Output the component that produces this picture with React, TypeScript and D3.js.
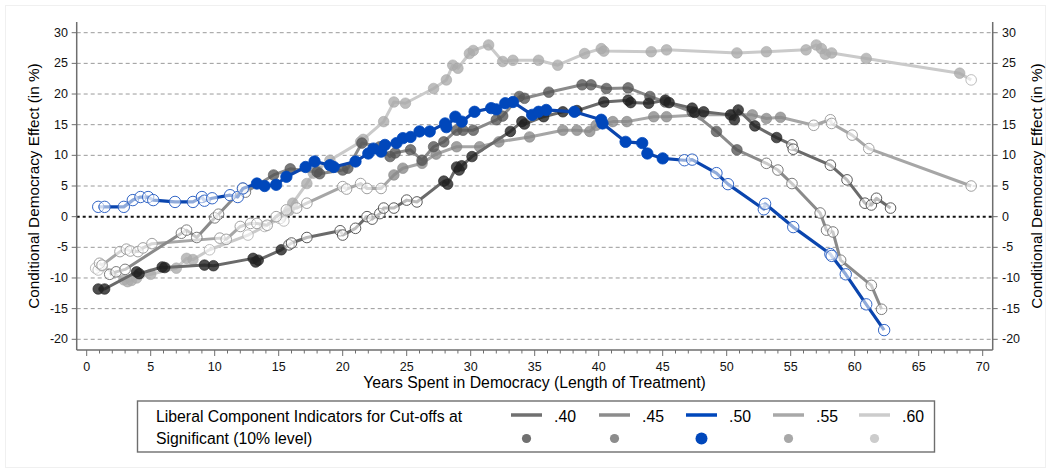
import React from "react";
import * as d3 from "d3";

// [years, effect, significant]
const s40: [number, number, number][] = [
  [0.9,-11.8,1],[1.4,-11.8,1],[3.9,-9.0,1],[4.1,-9.3,1],[5.9,-8.2,1],[6.1,-8.3,1],[9.2,-7.9,1],[9.9,-8.0,1],
  [13.0,-6.8,1],[13.2,-7.4,1],[13.4,-7.1,1],[15.2,-5.4,1],[15.8,-4.6,0],[16.0,-4.3,0],[17.2,-3.4,0],[19.8,-2.3,0],
  [20.0,-3.0,0],[21.0,-1.9,0],[21.9,0.0,0],[22.3,-0.4,0],[22.9,0.5,0],[23.2,1.4,0],[24.0,1.4,0],[25.0,2.7,0],
  [25.8,2.4,0],[27.9,5.8,1],[28.2,5.3,1],[28.9,8.1,1],[29.1,7.6,1],[29.3,8.3,1],[30.1,9.8,1],[33.1,13.9,1],
  [34.0,15.5,1],[34.2,15.1,1],[35.7,16.3,1],[37.2,17.1,1],[38.3,17.3,1],[40.4,18.7,1],[42.3,19.0,1],[42.5,18.6,1],
  [43.9,18.5,1],[45.2,19.0,1],[45.5,18.6,1],[47.3,17.7,1],[47.5,17.0,1],[48.2,17.1,1],[50.3,16.6,1],[50.6,15.8,1],
  [50.9,17.4,1],[52.2,14.8,1],[53.9,12.9,1],[55.1,11.7,0],[55.2,11.0,0],[58.1,8.4,0],[59.4,6.0,0],[60.8,2.2,0],
  [61.3,1.9,0],[61.7,3.0,0],[62.8,1.4,0],
];
const s45: [number, number, number][] = [
  [1.8,-9.4,0],[2.3,-9.0,0],[3.0,-8.6,0],[7.4,-2.7,0],[7.8,-2.2,0],[8.6,-3.4,0],[10.0,-0.2,0],[10.3,0.4,0],
  [12.2,4.6,0],[12.4,4.0,0],[14.6,6.8,1],[15.9,7.8,1],[18.0,7.3,1],[18.2,7.0,1],[20.0,7.6,1],[20.4,7.9,1],
  [21.5,12.0,1],[22.9,11.4,1],[23.7,9.8,1],[24.1,10.4,1],[25.3,10.9,1],[26.2,9.2,1],[27.1,11.4,1],[27.9,12.2,1],
  [28.9,14.1,1],[29.4,14.1,1],[30.2,14.1,1],[32.0,15.8,1],[32.5,16.4,1],[33.8,19.6,1],[34.2,19.3,1],[36.1,20.3,1],
  [38.7,21.5,1],[39.4,21.5,1],[40.6,20.9,1],[42.3,21.0,1],[44.0,19.6,1],[45.2,18.7,1],[47.3,17.1,1],[49.2,13.9,1],
  [50.8,10.9,1],[53.1,8.7,0],[54.0,7.6,0],[55.1,5.4,0],[57.3,0.6,0],[57.8,-2.2,0],[58.3,-2.5,0],[58.9,-7.1,0],
  [61.3,-11.2,0],[62.1,-15.1,0],
];
const s50: [number, number, number][] = [
  [0.9,1.6,0],[1.4,1.6,0],[2.9,1.6,0],[3.6,2.7,0],[4.2,3.2,0],[4.8,3.2,0],[5.2,2.7,0],[6.9,2.4,0],[8.3,2.4,0],
  [9.0,3.2,0],[9.2,2.6,0],[9.8,3.0,0],[11.2,3.5,0],[11.8,3.2,0],[12.2,4.6,0],[13.3,5.4,1],[13.9,5.0,1],[14.8,5.2,1],
  [15.6,6.5,1],[17.1,8.1,1],[17.8,9.0,1],[19.0,8.4,1],[19.3,8.1,1],[21.0,9.0,1],[22.0,10.3,1],[22.4,11.1,1],
  [23.0,10.6,1],[23.3,11.7,1],[24.2,12.0,1],[24.7,12.8,1],[25.3,13.0,1],[26.0,13.9,1],[26.8,13.9,1],[28.0,15.2,1],
  [28.1,14.6,1],[28.8,16.3,1],[29.3,15.5,1],[30.3,17.1,1],[31.6,17.7,1],[32.0,17.5,1],[32.7,18.5,1],[33.3,18.7,1],
  [34.8,16.6,1],[35.3,17.1,1],[35.9,17.4,1],[38.1,17.1,1],[40.2,15.8,1],[40.3,15.2,1],[42.1,12.2,1],[43.4,12.0,1],
  [43.8,10.3,1],[45.0,9.5,1],[46.7,9.2,0],[47.3,9.3,0],[49.2,7.1,0],[50.1,5.3,0],[52.9,1.2,0],[53.0,2.1,0],
  [55.2,-1.7,0],[58.1,-6.1,0],[58.2,-6.4,0],[59.3,-9.4,0],[60.9,-14.3,0],[62.3,-18.5,0],
];
const s55: [number, number, number][] = [
  [1.0,-7.6,0],[1.2,-7.9,0],[2.6,-5.7,0],[3.1,-5.3,0],[3.4,-5.6,0],[4.0,-5.7,0],[4.4,-5.1,0],[5.1,-4.4,0],
  [10.4,-3.5,0],[10.9,-3.7,0],[12.0,-1.6,0],[12.8,-1.1,0],[13.3,-1.1,0],[14.1,-1.4,0],[14.8,0.0,0],[15.6,1.1,0],
  [16.4,1.4,0],[17.2,2.2,0],[20.0,4.9,0],[20.3,4.5,0],[21.4,5.4,0],[21.9,4.6,0],[23.0,4.6,0],[24.0,6.8,1],
  [24.7,7.9,1],[26.2,8.7,1],[27.3,10.2,1],[28.9,11.4,1],[30.7,11.4,1],[32.2,12.2,1],[34.6,13.0,1],[37.2,14.1,1],
  [38.3,14.1,1],[39.3,13.9,1],[39.8,14.9,1],[41.1,15.5,1],[42.2,15.5,1],[44.3,16.3,1],[45.3,16.3,1],[48.0,16.6,1],
  [50.5,16.6,1],[52.0,16.6,1],[53.1,16.0,1],[54.2,16.2,1],[56.8,14.9,0],[58.1,15.8,0],[58.2,15.2,0],[59.8,13.3,0],
  [61.1,11.1,0],[69.1,5.0,0],
];
const s60: [number, number, number][] = [
  [0.7,-8.4,0],[0.9,-8.7,0],[1.2,-8.0,0],[2.9,-10.3,1],[3.2,-10.6,1],[3.5,-10.4,1],[3.9,-10.0,1],[5.0,-9.4,1],
  [7.0,-8.4,1],[7.8,-6.8,1],[8.3,-7.0,1],[9.6,-5.4,0],[12.6,-3.0,0],[13.9,-1.6,0],[15.1,-0.3,0],[15.4,-0.7,0],
  [15.8,1.0,1],[16.1,2.2,1],[17.2,5.4,1],[17.7,7.1,1],[18.0,7.6,1],[19.0,9.2,1],[21.4,12.2,1],[21.6,12.6,1],
  [23.2,15.5,1],[24.0,18.7,1],[24.9,18.5,1],[27.1,20.9,1],[28.1,22.3,1],[28.6,24.7,1],[29.0,24.2,1],[29.9,26.6,1],
  [30.2,27.1,1],[31.4,28.0,1],[32.5,25.3,1],[33.3,25.5,1],[35.3,25.5,1],[36.8,24.7,1],[38.9,26.6,1],[40.2,27.4,1],
  [40.4,27.0,1],[44.1,26.9,1],[45.3,27.2,1],[50.8,26.7,1],[53.1,26.9,1],[56.2,27.2,1],[57.0,28.0,1],[57.4,27.4,1],
  [57.7,26.5,1],[58.2,26.7,1],[60.9,25.8,1],[68.2,23.4,1],[69.1,22.3,0],
];

const yTicks = [-20, -15, -10, -5, 0, 5, 10, 15, 20, 25, 30];
const xTicks = [0, 5, 10, 15, 20, 25, 30, 35, 40, 45, 50, 55, 60, 65, 70];
const legendLabels = [".40", ".45", ".50", ".55", ".60"];
const legendTitle1 = "Liberal Component Indicators for Cut-offs at";
const legendTitle2 = "Significant (10% level)";
const xTitle = "Years Spent in Democracy (Length of Treatment)";
const yTitle = "Conditional Democracy Effect (in %)";

const W = 1051, H = 473;
const x = d3.scaleLinear().domain([0, 70]).range([86.7, 982.7]);
const y = d3.scaleLinear().domain([-20, 30]).range([339.3, 32.7]);
const left = 76.7, right = 992.7, bottom = 350, top = 22;

const FONT = "'Liberation Sans', Arial, Helvetica, sans-serif";

type Style = { line: string; fill: string; op: number; hollow: string; lw: number; r: number; legend: string; lr: number };
const styles: Style[] = [
  { line: "#6a6a6a", fill: "#222", op: 0.8, hollow: "#5a5a5a", lw: 3, r: 5.3, legend: "#707070", lr: 4.6 },
  { line: "#8a8a8a", fill: "#555", op: 0.78, hollow: "#7c7c7c", lw: 3, r: 5.3, legend: "#8c8c8c", lr: 4.6 },
  { line: "#0a45ae", fill: "#0047bb", op: 1, hollow: "#3366c6", lw: 3.2, r: 5.7, legend: "#0047bb", lr: 6 },
  { line: "#a6a6a6", fill: "#888", op: 0.78, hollow: "#a0a0a0", lw: 3, r: 5.3, legend: "#a8a8a8", lr: 4.6 },
  { line: "#cacaca", fill: "#aaa", op: 0.78, hollow: "#bdbdbd", lw: 3, r: 5.3, legend: "#cccccc", lr: 4.6 },
];
const series = [s40, s45, s50, s55, s60];

const lineGen = d3.line<[number, number, number]>().x(d => x(d[0])).y(d => y(d[1]));

function Series({ data, st }: { data: [number, number, number][]; st: Style }) {
  const sorted = [...data].sort((a, b) => a[0] - b[0]);
  return (
    <g>
      <path d={lineGen(sorted) || ""} fill="none" stroke={st.line} strokeWidth={st.lw} strokeLinejoin="round" />
      {sorted.map((d, i) =>
        d[2] ? (
          <circle key={i} cx={x(d[0])} cy={y(d[1])} r={st.r} fill={st.fill} fillOpacity={st.op} stroke={st.fill} strokeOpacity={st.op} strokeWidth={0.8} />
        ) : (
          <circle key={i} cx={x(d[0])} cy={y(d[1])} r={st.r} fill="#fff" fillOpacity={0.55} stroke={st.hollow} strokeWidth={1} />
        )
      )}
    </g>
  );
}

export default function App() {
  const minor = d3.range(0, 71, 1).filter(v => v % 5 !== 0);
  const order = [4, 3, 1, 0, 2];
  const legX = [511, 599, 686, 773, 859];
  return (
    <svg width={W} height={H} style={{ position: "absolute", left: 0, top: 0, background: "#fff" }} fontFamily={FONT}>
      <rect x={5.5} y={5.5} width={1040} height={462} fill="none" stroke="#f0f0f0" />
      {/* grid */}
      {yTicks.filter(v => v !== 0).map(v => (
        <line key={v} x1={left} x2={right} y1={y(v)} y2={y(v)} stroke="#9a9a9a" strokeWidth={1} strokeDasharray="4 3" />
      ))}
      <line x1={left} x2={right} y1={y(0)} y2={y(0)} stroke="#111" strokeWidth={2} strokeDasharray="3 3" />
      {/* axes */}
      <line x1={left} x2={left} y1={top} y2={bottom} stroke="#6e6e6e" strokeWidth={1.5} />
      <line x1={right} x2={right} y1={top} y2={bottom} stroke="#6e6e6e" strokeWidth={1.5} />
      <line x1={left} x2={right} y1={bottom} y2={bottom} stroke="#6e6e6e" strokeWidth={1.5} />
      {yTicks.map(v => (
        <g key={v} fontSize={12.5} fill="#111">
          <line x1={left - 5} x2={left} y1={y(v)} y2={y(v)} stroke="#6e6e6e" />
          <line x1={right} x2={right + 5} y1={y(v)} y2={y(v)} stroke="#6e6e6e" />
          <text x={68} y={y(v)} textAnchor="end" dominantBaseline="central">{v}</text>
          <text x={1002} y={y(v)} textAnchor="start" dominantBaseline="central">{v}</text>
        </g>
      ))}
      {xTicks.map(v => (
        <g key={v}>
          <line x1={x(v)} x2={x(v)} y1={bottom} y2={bottom + 6} stroke="#6e6e6e" />
          <text x={x(v)} y={366.5} textAnchor="middle" dominantBaseline="central" fontSize={12.5} fill="#111">{v}</text>
        </g>
      ))}
      {minor.map(v => (
        <line key={v} x1={x(v)} x2={x(v)} y1={bottom} y2={bottom + 3.5} stroke="#6e6e6e" />
      ))}
      <text x={534.5} y={382.5} textAnchor="middle" dominantBaseline="central" fontSize={15.8} fill="#000">{xTitle}</text>
      <text transform={`translate(33,186) rotate(-90)`} textAnchor="middle" dominantBaseline="central" fontSize={15.3} fill="#000">{yTitle}</text>
      <text transform={`translate(1036,186) rotate(-90)`} textAnchor="middle" dominantBaseline="central" fontSize={15.3} fill="#000">{yTitle}</text>
      {/* series */}
      {order.map(i => (
        <Series key={i} data={series[i]} st={styles[i]} />
      ))}
      {/* legend */}
      <rect x={137.5} y={401} width={797} height={51} fill="#fff" stroke="#6e6e6e" strokeWidth={1.4} />
      <text x={156} y={416.5} dominantBaseline="central" fontSize={15.8} fill="#000">{legendTitle1}</text>
      <text x={156} y={438.5} dominantBaseline="central" fontSize={15.8} fill="#000">{legendTitle2}</text>
      {legendLabels.map((lab, i) => (
        <g key={lab}>
          <line x1={legX[i]} x2={legX[i] + 31} y1={415} y2={415} stroke={styles[i].legend} strokeWidth={3.5} />
          <text x={legX[i] + 43} y={416.5} dominantBaseline="central" fontSize={15.8} fill="#000">{lab}</text>
          <circle cx={legX[i] + 15.5} cy={438.5} r={styles[i].lr} fill={styles[i].legend} />
        </g>
      ))}
    </svg>
  );
}
